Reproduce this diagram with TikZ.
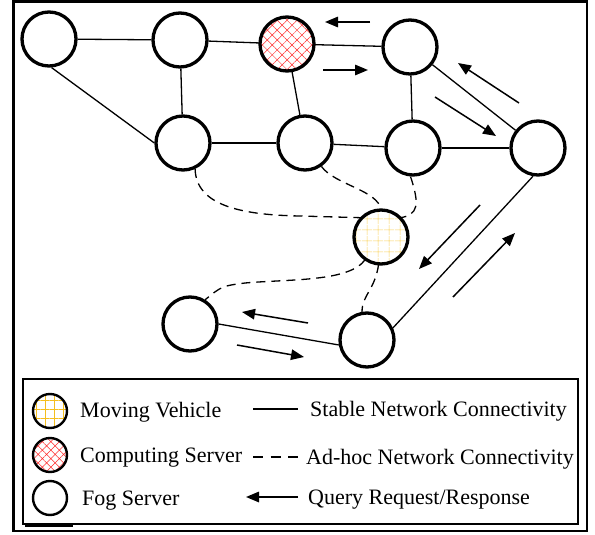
\documentclass[tikz,border=0pt]{standalone}
\usepackage{fontspec}
\setmainfont{Liberation Serif}
\usetikzlibrary{arrows.meta,patterns.meta}
\definecolor{vehgrid}{HTML}{F9D35E}
\definecolor{vehgridleg}{HTML}{F5BE1E}
\definecolor{srvhatch}{HTML}{FF2A2A}
\begin{document}
\begin{tikzpicture}[x=1pt,y=-1pt,
  fog/.style={circle,draw,line width=3.3pt,minimum size=54pt,inner sep=0pt},
  server/.style={fog,pattern={Hatch[angle=45,distance=7pt,line width=0.5pt]},pattern color=srvhatch},
  vehicle/.style={fog,pattern={Hatch[angle=0,distance=10.5pt,line width=0.5pt]},pattern color=vehgrid},
  legsym/.style={line width=2.4pt,minimum size=34pt},
  link/.style={line width=1.3pt},
  adhoc/.style={line width=1.3pt,dash pattern=on 9pt off 6pt},
  query/.style={line width=1.5pt,-{Triangle[length=13pt,width=10.5pt]}},
  legtext/.style={anchor=base west,font=\fontsize{22}{25}\selectfont,inner sep=0pt}]
\useasboundingbox (0,0) rectangle (595,535);

% frames
\draw[line width=2.8pt] (13.5,1.5) rectangle (587,531);
\draw[line width=2.2pt] (23,379) rectangle (578,524);
\draw[line width=3.5pt] (25,525) -- (73,525);

% network nodes
\node[fog]     (n1)  at (49,39)   {};
\node[fog]     (n2)  at (180,40)  {};
\node[server]  (n3)  at (287,44)  {};
\node[fog]     (n4)  at (410,47)  {};
\node[fog]     (n5)  at (183,143) {};
\node[fog]     (n6)  at (305,143) {};
\node[fog]     (n7)  at (413,148) {};
\node[fog]     (n8)  at (538,148) {};
\node[vehicle] (n9)  at (381,237) {};
\node[fog]     (n10) at (190,324) {};
\node[fog]     (n11) at (367,340) {};

% stable links
\draw[link] (n1) -- (n2);
\draw[link] (n1.-85) -- (n5.west);
\draw[link] (n2) -- (n3);
\draw[link] (n2) -- (n5);
\draw[link] (n3) -- (n4);
\draw[link] (n3) -- (n6);
\draw[link] (n4) -- (n7);
\draw[link] (n4) -- (n8);
\draw[link] (n5) -- (n6);
\draw[link] (n6) -- (n7);
\draw[link] (n7) -- (n8);
\draw[link] (n8.260) -- (n11.25);
\draw[link] (n10.east) -- (n11.190);

% ad-hoc links
\draw[adhoc] (n5.-65) .. controls (196,205) and (240,215) .. (300,216) -- (n9.135);
\draw[adhoc] (n6.-55) .. controls (335,185) and (378,190) .. (n9.north);
\draw[adhoc] (n7.-95) .. controls (420,205) and (418,215) .. (n9.45);
\draw[adhoc] (n9.235) .. controls (350,282) and (290,279) .. (245,283) .. controls (222,286) .. (n10.58);
\draw[adhoc] (n9.265) .. controls (375,290) and (362,295) .. (n11.100);

% query request / response arrows
\coordinate (a1s) at (370,22);  \coordinate (a1e) at (325,22);
\coordinate (a2s) at (323,70);  \coordinate (a2e) at (368,70);
\coordinate (a3s) at (519,103); \coordinate (a3e) at (458,63);
\coordinate (a4s) at (435,97);  \coordinate (a4e) at (496,136);
\coordinate (a5s) at (480,205); \coordinate (a5e) at (419,269);
\coordinate (a6s) at (453,297); \coordinate (a6e) at (515,233);
\coordinate (a7s) at (308,323); \coordinate (a7e) at (242,312);
\coordinate (a8s) at (237,345); \coordinate (a8e) at (304,357);
\foreach \k in {1,...,8} \draw[query] (a\k s) -- (a\k e);

% legend
\node[vehicle,legsym,pattern={Hatch[angle=0,distance=9pt,line width=0.7pt]},pattern color=vehgridleg] (lv) at (50,411) {};
\node[server,legsym,pattern={Hatch[angle=45,distance=6pt,line width=0.5pt]}] (ls) at (50,455) {};
\node[fog,legsym] (lf) at (50,498) {};
\node[legtext] (tv) at (80,417) {Moving Vehicle};
\node[legtext] (ts) at (80,462) {Computing Server};
\node[legtext] (tf) at (82,505) {Fog Server};

\coordinate (l1a) at (253,409); \coordinate (l1b) at (298,409);
\coordinate (l2a) at (253,457); \coordinate (l2b) at (298,457);
\coordinate (l3a) at (298,497); \coordinate (l3b) at (246,497);
\draw[link] (l1a) -- (l1b);
\draw[line width=1.3pt,dash pattern=on 10pt off 7.5pt] (l2a) -- (l2b);
\draw[query] (l3a) -- (l3b);
\node[legtext] (t1) at (310,416) {Stable Network Connectivity};
\node[legtext] (t2) at (306,464) {Ad-hoc Network Connectivity};
\node[legtext] (t3) at (308,504) {Query Request/Response};
\end{tikzpicture}
\end{document}
